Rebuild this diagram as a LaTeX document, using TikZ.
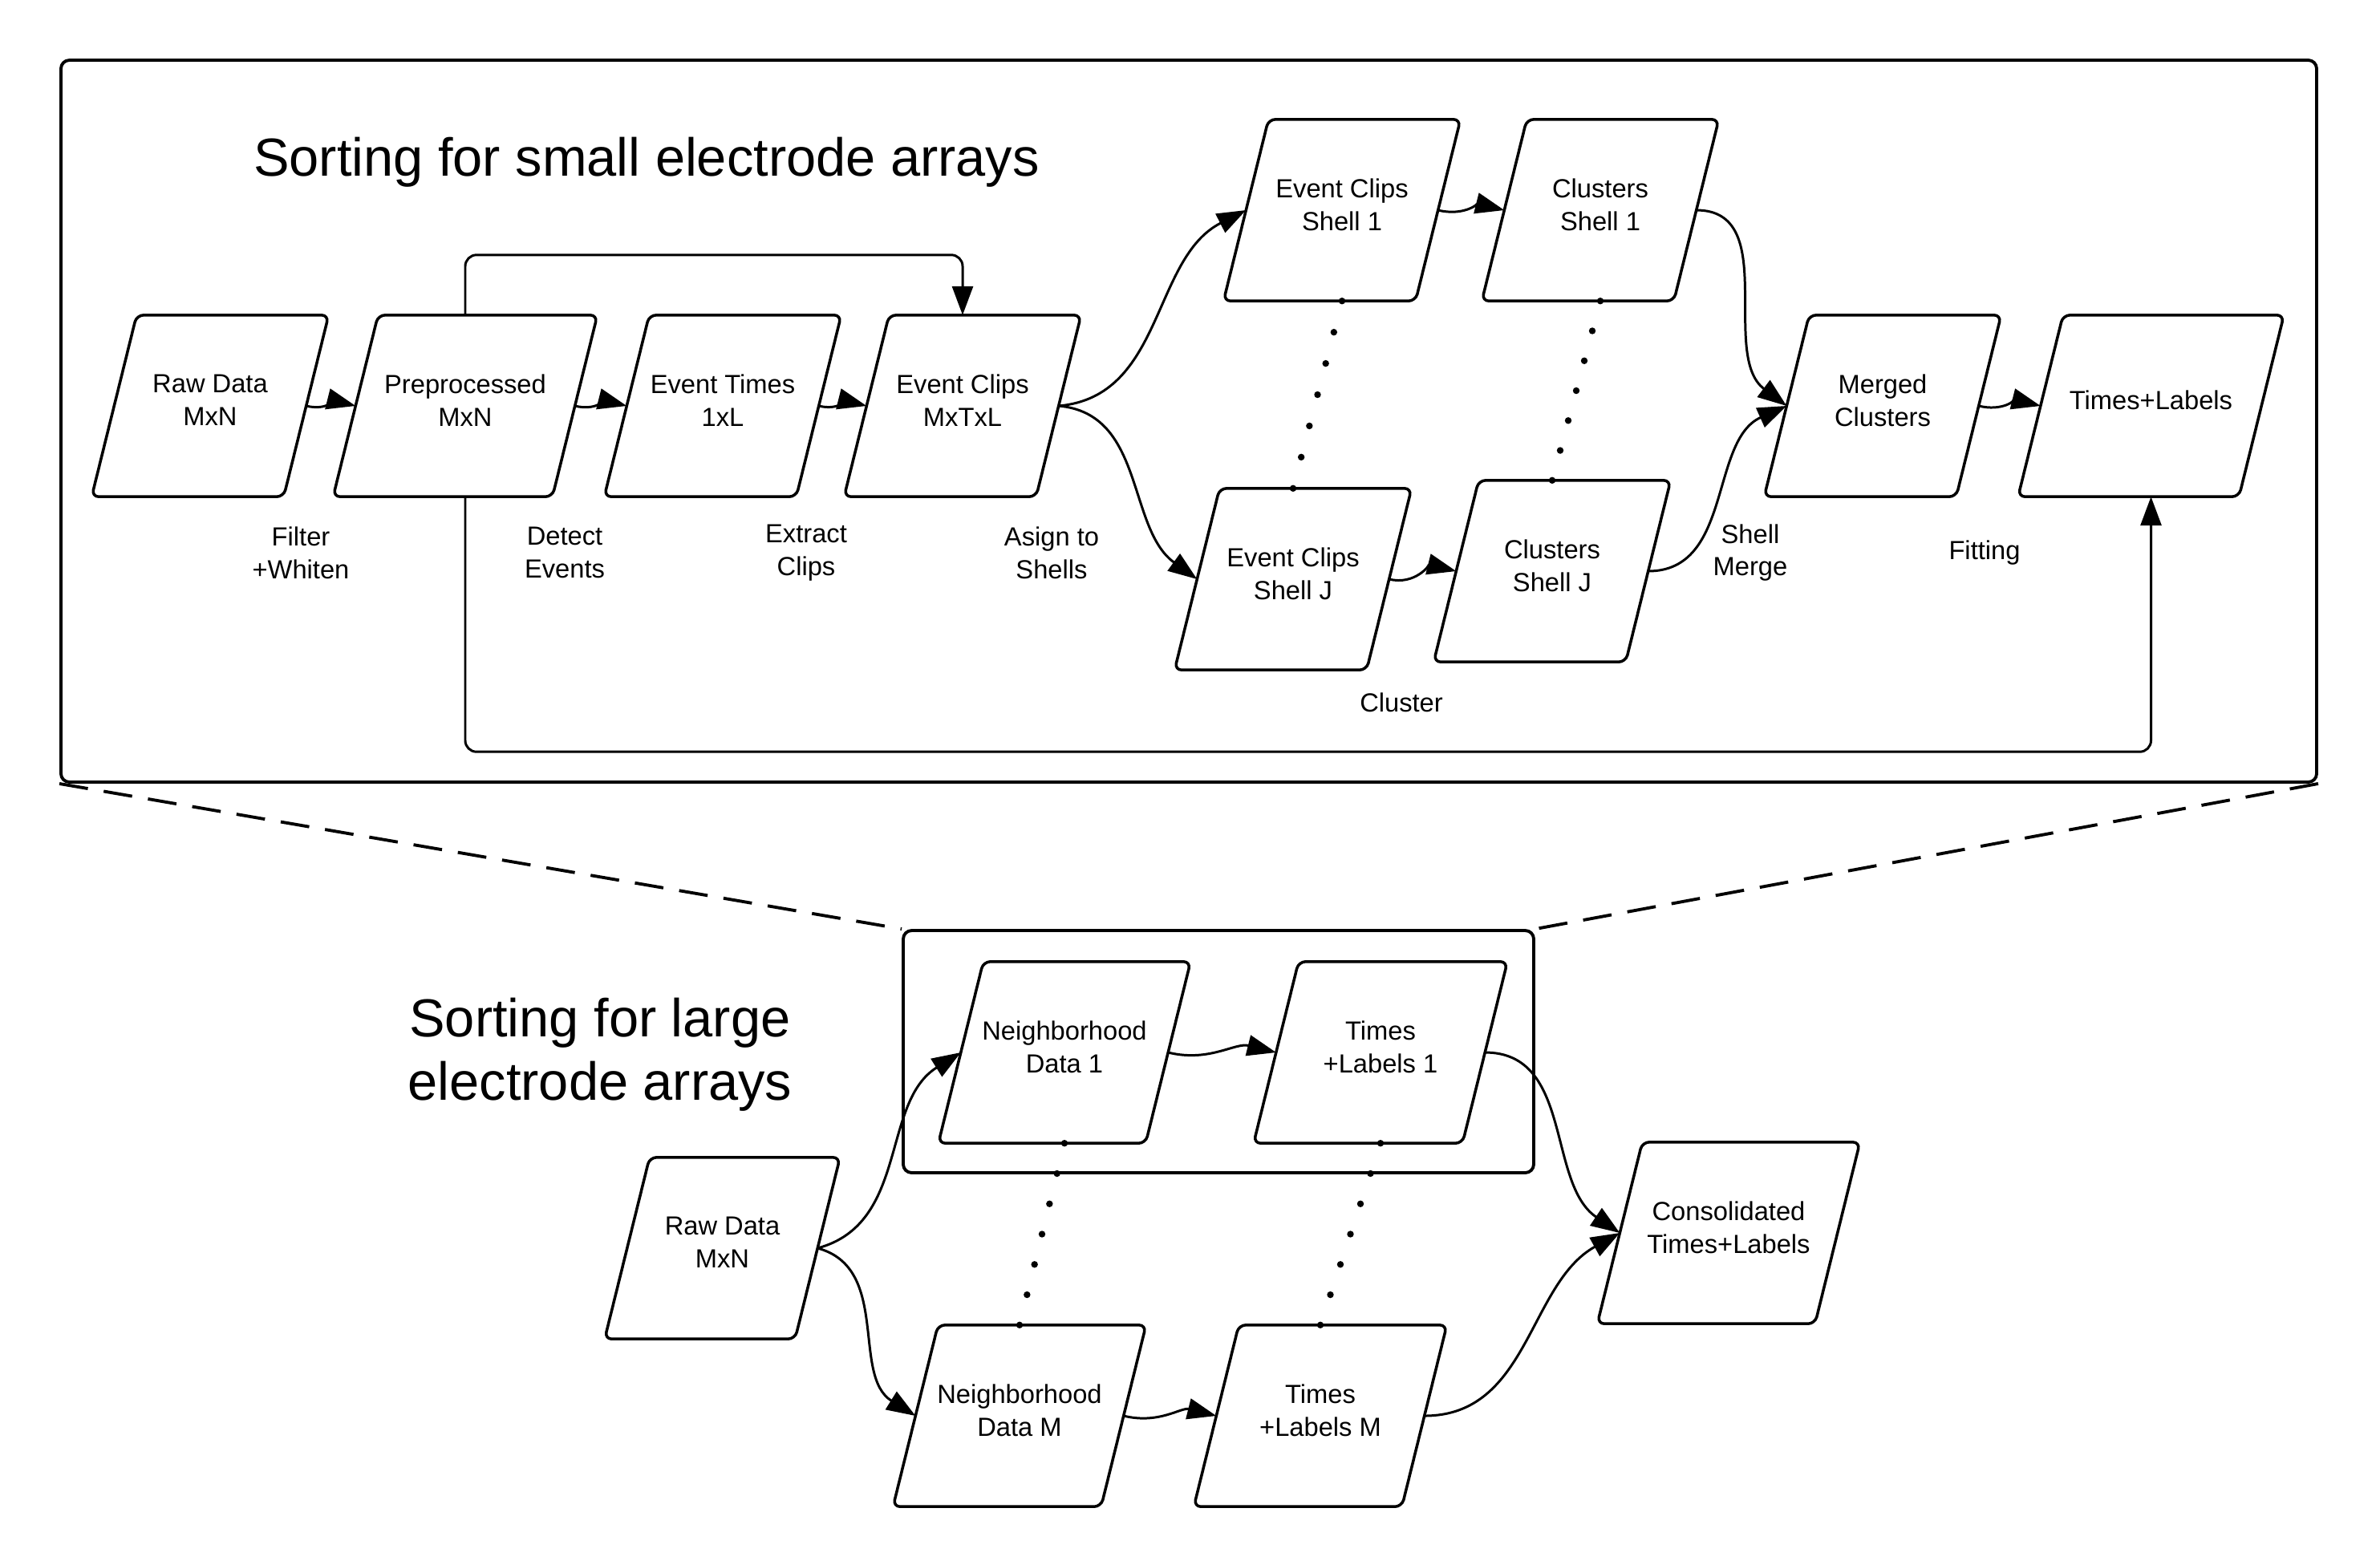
\documentclass[tikz,border=0pt]{standalone}
\usepackage{fontspec}
\setmainfont{Liberation Sans}
\usepackage{tikz}
\usetikzlibrary{arrows.meta,positioning,calc}

\begin{document}
\begin{tikzpicture}[on grid,
    box/.style={minimum width=#1, minimum height=2.25cm, align=center, inner sep=0pt,
        text depth=4pt, font=\fontsize{9.3}{11.6}\selectfont,
        append after command={\pgfextra{\draw[line width=1pt, rounded corners=2.5pt]
            ($(\tikzlastnode.south west)+(-0.28,0)$) -- ($(\tikzlastnode.south east)+(-0.28,0)$)
            -- ($(\tikzlastnode.north east)+(0.28,0)$) -- ($(\tikzlastnode.north west)+(0.28,0)$) -- cycle;}}},
    box/.default=2.38cm,
    lbl/.style={align=center, font=\fontsize{9.3}{11.6}\selectfont},
    frame/.style={draw, line width=1.1pt, rounded corners=3pt},
    link/.style={line width=0.85pt, -{Triangle[length=3.6mm,width=2.6mm]}},
    zoomline/.style={line width=1.1pt, dash pattern=on 3.6mm off 2mm}]
    \useasboundingbox (0,0) rectangle (29.67,-19.5);

    % frames
    \node[frame, minimum width=28.12cm, minimum height=9cm] (small) at (14.82,-5.25) {};
    \node[frame, minimum width=7.86cm, minimum height=3.02cm] (large) at (15.19,-13.11) {};
    \draw[zoomline] (small.south west) -- (large.north west);
    \draw[zoomline] (small.south east) -- (large.north east);

    \node[anchor=base, font=\fontsize{19}{22.4}\selectfont] (title1) at (8.06,-2.19) {Sorting for small electrode arrays};
    \node[align=center, font=\fontsize{19}{22.4}\selectfont] (title2) at (7.48,-13.15) {Sorting for large\\electrode arrays};

    % small arrays
    \node[box] (raw) at (2.62,-5.06) {Raw Data\\MxN};
    \node[box=2.72cm, right=3.18cm of raw] (pre) {Preprocessed\\MxN};
    \node[box, right=3.21cm of pre] (et) {Event Times\\1xL};
    \node[box, right=2.99cm of et] (ec) {Event Clips\\MxTxL};
    \node[box, above right=2.44cm and 4.73cm of ec] (s1) {Event Clips\\Shell 1};
    \node[box, right=3.22cm of s1] (c1) {Clusters\\Shell 1};
    \node[box, below right=2.16cm and 4.12cm of ec] (sj) {Event Clips\\Shell J};
    \node[box, above right=0.1cm and 3.23cm of sj] (cj) {Clusters\\Shell J};
    \node[box, right=11.47cm of ec] (mc) {Merged\\Clusters};
    \node[box=2.74cm, right=3.345cm of mc] (tl) {Times+Labels};

    \draw[link] (raw.east) to[out=-14,in=166] (pre.west);
    \draw[link] (pre.east) to[out=-14,in=166] (et.west);
    \draw[link] (et.east) to[out=-14,in=166] (ec.west);
    \draw[link] (ec.east) to[out=5,in=207] (s1.west);
    \draw[link] (ec.east) to[out=-5,in=144] (sj.west);
    \draw[link] (s1.east) to[out=-14,in=166] (c1.west);
    \draw[link] (sj.east) to[out=-14,in=166] (cj.west);
    \draw[link] (c1.east) to[out=0,in=143] (mc.west);
    \draw[link] (cj.east) to[out=0,in=204] (mc.west);
    \draw[link] (mc.east) to[out=-14,in=166] (tl.west);
    \draw[link, rounded corners=4pt] (pre.north) -- ++(0,0.75) -| (ec.north);
    \draw[link, rounded corners=4pt] (pre.south) -- ++(0,-3.18) -| (tl.south);

    \node[lbl] (filt) at (3.75,-6.89) {Filter\\+Whiten};
    \node[lbl] (detect) at (7.04,-6.89) {Detect\\Events};
    \node[lbl] (extract) at (10.05,-6.89) {Extract\\Clips};
    \node[lbl] (assign) at (13.11,-6.89) {Asign to\\Shells};
    \node[lbl] (clust) at (17.47,-8.76) {Cluster};
    \node[lbl] (merge) at (21.82,-6.89) {Shell\\Merge};
    \node[lbl] (fit) at (24.74,-6.89) {Fitting};

    % large arrays
    \node[box=2.36cm] (raw2) at (9.005,-15.56) {Raw Data\\MxN};
    \node[box=2.57cm, above right=2.44cm and 4.265cm of raw2] (nd1) {Neighborhood\\Data 1};
    \node[box=2.59cm, right=3.94cm of nd1] (t1) {Times\\+Labels 1};
    \node[box=2.58cm, below right=2.09cm and 3.705cm of raw2] (ndm) {Neighborhood\\Data M};
    \node[box=2.58cm, right=3.75cm of ndm] (tm) {Times\\+Labels M};
    \node[box=2.70cm] (cons) at (21.55,-15.37) {Consolidated\\Times+Labels};

    \draw[link] (raw2.east) to[out=15,in=212] (nd1.west);
    \draw[link] (raw2.east) to[out=-15,in=148] (ndm.west);
    \draw[link] (nd1.east) to[out=-14,in=166] (t1.west);
    \draw[link] (ndm.east) to[out=-14,in=166] (tm.west);
    \draw[link] (t1.east) to[out=0,in=146] (cons.west);
    \draw[link] (tm.east) to[out=0,in=209] (cons.west);

    % dots between shells and neighborhoods
    \foreach \a/\b in {s1/sj, c1/cj, nd1/ndm, t1/tm}
        \foreach \k in {0,...,6}
            \fill ($(\a.south)!\k/6!(\b.north)$) circle (1.2pt);
\end{tikzpicture}
\end{document}
